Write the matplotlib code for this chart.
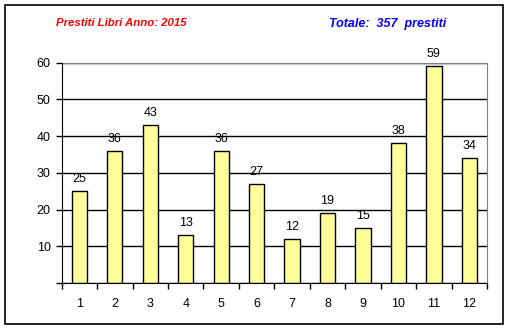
import matplotlib.pyplot as plt
from matplotlib.patches import Rectangle

# Monthly loans, 2015
months = ['1', '2', '3', '4', '5', '6', '7', '8', '9', '10', '11', '12']
loans = [25, 36, 43, 13, 36, 27, 12, 19, 15, 38, 59, 34]
y_ticks = [0, 10, 20, 30, 40, 50, 60]
y_labels = ['', '10', '20', '30', '40', '50', '60']

plt.rcParams['font.family'] = ['Liberation Sans', 'DejaVu Sans']

fig = plt.figure(figsize=(5.1, 3.29), dpi=100)
ax = fig.add_axes([0.121, 0.1398, 0.834, 0.6696])

x = list(range(len(months)))
ax.bar(x, loans, width=0.43, color='#FFFF99', edgecolor='black', linewidth=1, zorder=3)

# value labels above bars
for xi, v in zip(x, loans):
    ax.annotate(str(v), (xi, v), xytext=(0, 4.5), textcoords='offset points',
                ha='center', va='bottom', fontsize=9)

ax.set_xlim(-0.5, len(months) - 0.5)
ax.set_ylim(0, 60)
ax.set_yticks(y_ticks)
ax.set_yticklabels(y_labels, fontsize=9)
ax.yaxis.grid(True, color='black', linewidth=1, zorder=0)

# x ticks sit on category boundaries, labels centred on bars
ax.set_xticks([i - 0.5 for i in range(len(months) + 1)])
ax.set_xticklabels([])
ax.set_xticks(x, minor=True)
ax.set_xticklabels(months, minor=True, fontsize=9)
ax.tick_params(axis='x', which='major', direction='out', length=4, width=1)
ax.tick_params(axis='x', which='minor', length=0, pad=11)
ax.tick_params(axis='y', direction='out', length=4, width=1, pad=4)

for side in ['top', 'right']:
    ax.spines[side].set_color('#808080')
for side in ['left', 'bottom']:
    ax.spines[side].set_color('black')
    ax.spines[side].set_zorder(4)

fig.text(121 / 510, 1 - 23 / 329, 'Prestiti Libri Anno: 2015', color='red',
         fontsize=8.2, fontweight='bold', fontstyle='italic', ha='center', va='center')
fig.text(388 / 510, 1 - 24 / 329, 'Totale:  357  prestiti', color='#0000FF',
         fontsize=9, fontweight='bold', fontstyle='italic', ha='center', va='center')

# outer frame
fig.patches.append(Rectangle((5 / 510, 5 / 329), 498 / 510, 319 / 329, transform=fig.transFigure,
                             fill=False, edgecolor='black', linewidth=1.2))

plt.savefig('out.png', dpi=100)
